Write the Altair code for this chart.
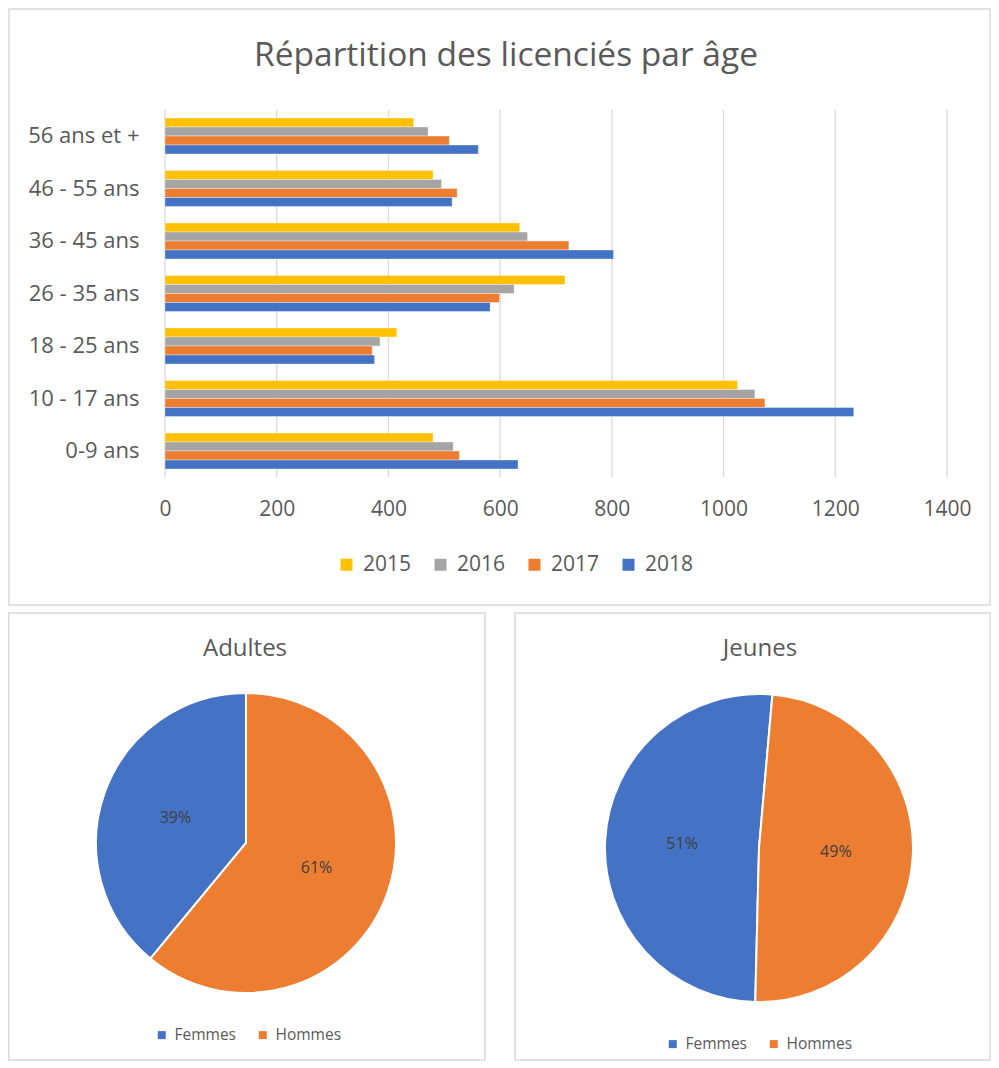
import math
import altair as alt
import pandas as pd

FONT = "Open Sans"
TXT = "#595959"
BORDER = "#D9D9D9"

# ---- data: bar chart ----
ages = ["0-9 ans", "10 - 17 ans", "18 - 25 ans", "26 - 35 ans",
        "36 - 45 ans", "46 - 55 ans", "56 ans et +"]
years = ["2015", "2016", "2017", "2018"]
v2015 = [480, 1025, 415, 716, 635, 480, 445]
v2016 = [516, 1056, 385, 625, 649, 495, 471]
v2017 = [527, 1074, 371, 599, 723, 523, 509]
v2018 = [632, 1233, 375, 582, 803, 514, 561]
year_colors = ["#FFC000", "#A5A5A5", "#ED7D31", "#4472C4"]
x_ticks = [0, 200, 400, 600, 800, 1000, 1200, 1400]
bar_title = "Répartition des licenciés par âge"

# ---- data: pies ----
genres = ["Femmes", "Hommes"]
adultes_pct = [39, 61]
jeunes_pct = [51, 49]
genre_colors = ["#4472C4", "#ED7D31"]
pie_titles = ["Adultes", "Jeunes"]

rows = []
for yr, vals in zip(years, [v2015, v2016, v2017, v2018]):
    for a, v in zip(ages, vals):
        rows.append({"age": a, "annee": yr, "n": v})
bar_df = pd.DataFrame(rows)

# ---- layout (pixels inside the single view) ----
VW, VH = 983, 1052
PX0, PX1 = 157, 939          # bar plot horizontal extent
PY0, PY1 = 100.75, 468.25    # bar plot vertical extent

one = pd.DataFrame({"k": [0]})


def box(x0, y0, x1, y1):
    return alt.Chart(one).mark_rect(fillOpacity=0, stroke=BORDER, strokeWidth=1.5).encode(
        x=alt.value(x0), x2=alt.value(x1), y=alt.value(y0), y2=alt.value(y1))


def title_text(txt, x, y, size):
    return alt.Chart(pd.DataFrame({"t": [txt]})).mark_text(
        fontSize=size, color=TXT, font=FONT, align="center", baseline="middle").encode(
        x=alt.value(x), y=alt.value(y), text="t:N")


x_enc = alt.X("n:Q", scale=alt.Scale(domain=[0, 1400], range=[PX0, PX1], nice=False),
              axis=alt.Axis(values=x_ticks, format="d", title=None, grid=False, domain=False,
                            ticks=False, labelFontSize=21, labelColor=TXT, labelPadding=21,
                            labelFont=FONT, labelFlush=False, labelOverlap=False,
                            orient="bottom", offset=PY1 - VH))

grid = alt.Chart(pd.DataFrame({"n": x_ticks})).mark_rule(color=BORDER, strokeWidth=1.3).encode(
    x=x_enc, y=alt.value(PY0), y2=alt.value(PY1))

bars = alt.Chart(bar_df).mark_bar(stroke="white", strokeWidth=0.5, strokeOpacity=0.7).encode(
    x=x_enc,
    y=alt.Y("age:N", sort=ages[::-1],
            scale=alt.Scale(range=[PY0, PY1], paddingInner=0.314, paddingOuter=0.157),
            axis=alt.Axis(title=None, domain=False, ticks=False, grid=False, orient="left",
                          offset=-PX0, labelPadding=26, labelFontSize=22, labelColor=TXT,
                          labelFont=FONT)),
    yOffset=alt.YOffset("annee:N", sort=years, scale=alt.Scale(paddingInner=0, paddingOuter=0)),
    color=alt.Color("annee:N", scale=alt.Scale(domain=years, range=year_colors),
                    legend=alt.Legend(orient="none", legendX=328, legendY=545,
                                      direction="horizontal", title=None, symbolType="square",
                                      symbolSize=144, labelFontSize=21, labelColor=TXT,
                                      labelFont=FONT, columnPadding=18, labelOffset=6,
                                      symbolStrokeWidth=0, padding=0)),
)


def pie(values, cx, cy, r, start_deg, lx, ly):
    df = pd.DataFrame({"genre": genres, "pct": values,
                       "label": [f"{v}%" for v in values], "ord": [1, 0]})
    s = math.radians(start_deg)
    theta = alt.Theta("pct:Q", stack=True, scale=alt.Scale(range=[s, s + 2 * math.pi]))
    base = alt.Chart(df).encode(theta=theta, order=alt.Order("ord:Q"))
    arc = base.mark_arc(outerRadius=r, stroke="white", strokeWidth=2).encode(
        x=alt.value(cx), y=alt.value(cy),
        color=alt.Color("genre:N", scale=alt.Scale(domain=genres, range=genre_colors),
                        legend=alt.Legend(orient="none", legendX=lx, legendY=ly,
                                          direction="horizontal", title=None,
                                          symbolType="square", symbolSize=64,
                                          labelFontSize=15.5, labelColor=TXT, labelFont=FONT,
                                          columnPadding=19, labelOffset=5,
                                          symbolStrokeWidth=0, padding=0)))
    text = base.mark_text(radius=r * 0.5, fontSize=16, color="#404040", font=FONT).encode(
        x=alt.value(cx), y=alt.value(cy), text="label:N")
    return arc, text


arc_a, txt_a = pie(adultes_pct, 238, 834, 150, 0, 146, 1018)
arc_j, txt_j = pie(jeunes_pct, 751, 839, 154, 5, 657, 1027)

chart = alt.layer(
    box(1, 0, 982, 596),
    box(0.75, 604, 477, 1051),
    box(507, 604, 982, 1051),
    grid, bars,
    title_text(bar_title, 498, 47, 33.5),
    arc_a, txt_a, arc_j, txt_j,
    title_text(pie_titles[0], 237, 640, 24),
    title_text(pie_titles[1], 752, 640, 24),
).resolve_scale(color="independent", theta="independent").resolve_legend(
    color="independent").properties(width=VW, height=VH).configure(
    padding=0, font=FONT).configure_view(stroke="transparent")

chart.save("out.html", embed_options={"renderer": "svg", "actions": False})
